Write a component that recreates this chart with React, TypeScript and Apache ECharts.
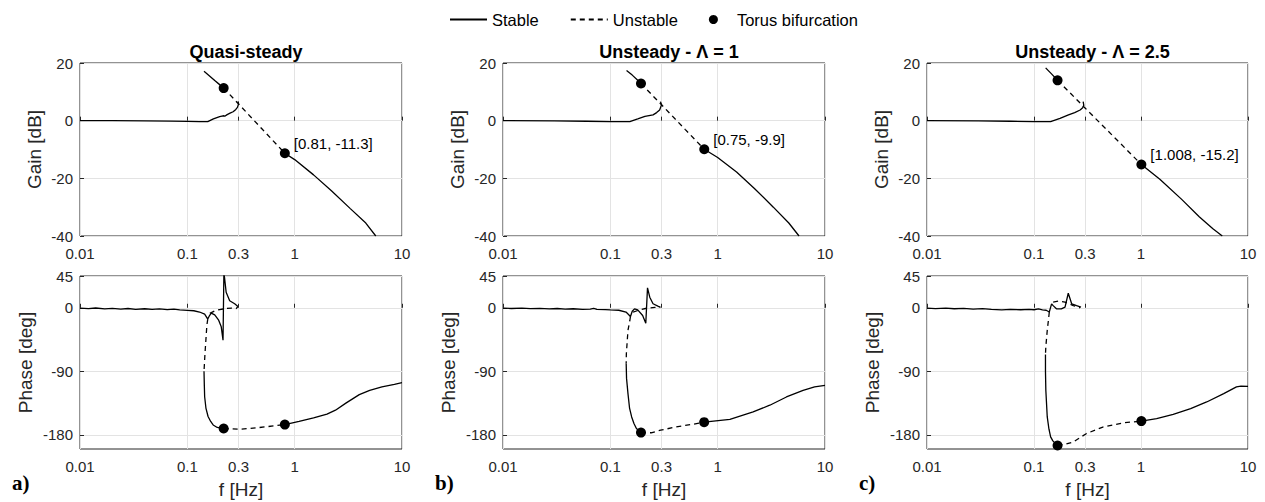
import React, { useEffect, useRef } from 'react';
import * as echarts from 'echarts';

type Pt = [number, number];

// ---------- texts ----------
const panelTitles = ['Quasi-steady', 'Unsteady - Λ = 1', 'Unsteady - Λ = 2.5'];
const panelLetters = ['a)', 'b)', 'c)'];
const legendNames = ['Stable', 'Unstable', 'Torus bifurcation'];
const gainName = 'Gain [dB]';
const phaseName = 'Phase [deg]';
const freqName = 'f [Hz]';
const torusNotes = ['[0.81, -11.3]', '[0.75, -9.9]', '[1.008, -15.2]'];

// ---------- ticks ----------
const freqTicks = [0.01, 0.1, 0.3, 1, 10];
const gainTicks = [-40, -20, 0, 20];
const phaseTicks = [-180, -90, 0, 45];
const gainRange = [-40, 20];
const phaseRange = [-200, 45];
const freqRange = [0.01, 10];

// ---------- panel a (quasi-steady) ----------
const aGainStableLow: Pt[] = [[0.01, 0], [0.02, 0], [0.04, -0.05], [0.07, -0.15], [0.1, -0.25], [0.13, -0.35], [0.155, -0.35], [0.175, 0.6], [0.2, 1.4], [0.215, 1.7], [0.225, 1.6], [0.235, 2.1], [0.25, 2.6], [0.267, 3.1], [0.283, 3.9], [0.293, 4.6], [0.3, 5.8], [0.297, 6.7]];
const aGainStableHigh: Pt[] = [[0.143, 17.1], [0.16, 15.6], [0.18, 13.9], [0.2, 12.5], [0.218, 11.3]];
const aGainUnstable: Pt[] = [[0.218, 11.3], [0.3, 5.8], [0.5, -3.0], [0.81, -11.3]];
const aGainStableTail: Pt[] = [[0.81, -11.3], [1.0, -13.5], [1.5, -18.8], [2.2, -24.3], [3.3, -30.5], [4.6, -35.5], [5.7, -40]];
const aPhaseStableLow: Pt[] = [[0.01, -0.5], [0.012, -1.2], [0.014, -0.3], [0.017, -1.5], [0.02, -0.8], [0.024, -1.9], [0.028, -1.0], [0.033, -2.2], [0.04, -1.4], [0.047, -2.3], [0.055, -1.6], [0.065, -2.6], [0.075, -2.0], [0.085, -3.0], [0.1, -3.6], [0.115, -4.2], [0.13, -6], [0.145, -9], [0.155, -16], [0.161, -11], [0.167, -7.6], [0.18, -10], [0.195, -17], [0.207, -27], [0.215, -46], [0.218, -46], [0.219, 48], [0.222, 43], [0.23, 22], [0.248, 10], [0.276, 5.6], [0.296, 1.8]];
const aPhaseUnstableTop: Pt[] = [[0.162, -8], [0.18, -4.5], [0.2, -2.5], [0.23, -1], [0.26, -0.5], [0.285, -1.2], [0.296, 1.8]];
const aPhaseUnstableDrop: Pt[] = [[0.155, -16], [0.152, -25], [0.149, -45], [0.146, -65], [0.143, -90]];
const aPhaseStableDrop: Pt[] = [[0.143, -90], [0.144, -110], [0.145, -126], [0.149, -142], [0.156, -154], [0.165, -161], [0.174, -166], [0.19, -169.5], [0.218, -171]];
const aPhaseUnstableLow: Pt[] = [[0.218, -171], [0.3, -172], [0.38, -171], [0.54, -168.6], [0.81, -165.4]];
const aPhaseStableTail: Pt[] = [[0.81, -165.4], [1.1, -161], [1.5, -156], [2.0, -150.5], [2.4, -145], [3.0, -135], [4.0, -123], [5.0, -117], [6.5, -112], [8.5, -108.5], [10, -106]];
const aGainTorus: Pt[] = [[0.218, 11.3], [0.81, -11.3]];
const aPhaseTorus: Pt[] = [[0.218, -171], [0.81, -165.4]];

// ---------- panel b (unsteady, Λ = 1) ----------
const bGainStableLow: Pt[] = [[0.01, 0], [0.03, -0.05], [0.06, -0.2], [0.1, -0.3], [0.13, -0.35], [0.152, -0.35], [0.18, 0.6], [0.21, 1.5], [0.25, 2.0], [0.27, 2.8], [0.288, 3.7], [0.3, 5.5], [0.293, 6.6]];
const bGainStableHigh: Pt[] = [[0.1416, 17.4], [0.16, 15.8], [0.18, 14.0], [0.193, 12.9]];
const bGainUnstable: Pt[] = [[0.193, 12.9], [0.3, 5.5], [0.5, -3.1], [0.75, -9.9]];
const bGainStableTail: Pt[] = [[0.75, -9.9], [1.0, -12.8], [1.5, -17.8], [2.2, -23.5], [3.3, -30], [4.6, -35.5], [5.73, -40]];
const bPhaseStableLow: Pt[] = [[0.01, -0.5], [0.012, -1.0], [0.015, -0.4], [0.018, -1.3], [0.022, -0.8], [0.027, -1.6], [0.032, -1.0], [0.038, -2.0], [0.045, -1.4], [0.055, -2.4], [0.065, -2.0], [0.07, -0.8], [0.075, -2.2], [0.09, -2.6], [0.1, -3.0], [0.12, -3.5], [0.14, -6], [0.154, -12.3], [0.16, -5], [0.168, -1.5], [0.18, -3], [0.2, -11], [0.214, -21.8], [0.222, 28.2], [0.233, 15], [0.25, 5.7], [0.28, 1.9], [0.29, 1]];
const bPhaseUnstableTop: Pt[] = [[0.163, -6], [0.19, -2.8], [0.22, -0.5], [0.26, 0.5], [0.294, 1]];
const bPhaseUnstableDrop: Pt[] = [[0.154, -12.3], [0.152, -18], [0.146, -32], [0.141, -65], [0.1405, -79]];
const bPhaseStableDrop: Pt[] = [[0.1405, -79], [0.1416, -100], [0.146, -121.6], [0.151, -142], [0.158, -154.6], [0.166, -164], [0.175, -171], [0.193, -176.7]];
const bPhaseUnstableLow: Pt[] = [[0.193, -176.7], [0.24, -177], [0.294, -173.4], [0.41, -168.7], [0.585, -165], [0.748, -162]];
const bPhaseStableTail: Pt[] = [[0.748, -162], [1.3, -158], [2.14, -147.5], [3.06, -138], [4.37, -126.3], [6.25, -117], [8.0, -112], [10, -109.8]];
const bGainTorus: Pt[] = [[0.193, 12.9], [0.75, -9.9]];
const bPhaseTorus: Pt[] = [[0.193, -176.7], [0.748, -162]];

// ---------- panel c (unsteady, Λ = 2.5) ----------
const cGainStableLow: Pt[] = [[0.01, 0], [0.03, -0.05], [0.06, -0.2], [0.1, -0.3], [0.143, -0.35], [0.175, 0.8], [0.21, 2.0], [0.24, 2.8], [0.27, 3.7], [0.285, 4.5], [0.292, 5.3], [0.288, 6.6]];
const cGainStableHigh: Pt[] = [[0.1285, 18.3], [0.145, 16.3], [0.166, 14]];
const cGainUnstable: Pt[] = [[0.166, 14], [0.3, 4.4], [0.6, -6.8], [1.008, -15.2]];
const cGainStableTail: Pt[] = [[1.008, -15.2], [1.5, -20.3], [2.4, -27.3], [3.5, -33.3], [4.7, -37.5], [5.75, -40]];
const cPhaseStableLow: Pt[] = [[0.01, -0.5], [0.012, -1.2], [0.015, -0.5], [0.018, -1.4], [0.022, -0.9], [0.027, -1.8], [0.033, -1.2], [0.04, -2.2], [0.05, -3], [0.06, -2.2], [0.075, -2.8], [0.09, -2.2], [0.1, -2.8], [0.11, -1.5], [0.12, -3], [0.13, -3.5], [0.139, -6], [0.146, 5.6], [0.151, 3], [0.162, -1.5], [0.18, -1.5], [0.195, 1], [0.209, 20.6], [0.225, 5.6], [0.25, 3], [0.275, 1]];
const cPhaseUnstableTop: Pt[] = [[0.151, 8], [0.168, 9.3], [0.195, 8], [0.233, 3], [0.27, 0]];
const cPhaseUnstableDrop: Pt[] = [[0.139, -6], [0.137, -15], [0.133, -32], [0.129, -55], [0.128, -66]];
const cPhaseStableDrop: Pt[] = [[0.128, -66], [0.128, -90], [0.129, -116.9], [0.133, -154.6], [0.138, -172], [0.143, -182.8], [0.15, -188.5], [0.158, -192], [0.166, -195]];
const cPhaseUnstableLow: Pt[] = [[0.166, -195], [0.2, -193], [0.233, -190], [0.31, -178], [0.44, -169], [0.68, -163], [1.008, -160.5]];
const cPhaseStableTail: Pt[] = [[1.008, -160.5], [1.4, -157], [2.0, -150.8], [2.91, -142.8], [4.11, -133.4], [5.93, -121.6], [7.8, -112], [8.6, -111], [10, -111.2]];
const cGainTorus: Pt[] = [[0.166, 14], [1.008, -15.2]];
const cPhaseTorus: Pt[] = [[0.166, -195], [1.008, -160.5]];

const panels = [
  {
    gainStable: [aGainStableLow, aGainStableHigh, aGainStableTail], gainUnstable: [aGainUnstable],
    phaseStable: [aPhaseStableLow, aPhaseStableDrop, aPhaseStableTail], phaseUnstable: [aPhaseUnstableTop, aPhaseUnstableDrop, aPhaseUnstableLow],
    gainTorus: aGainTorus, phaseTorus: aPhaseTorus,
  },
  {
    gainStable: [bGainStableLow, bGainStableHigh, bGainStableTail], gainUnstable: [bGainUnstable],
    phaseStable: [bPhaseStableLow, bPhaseStableDrop, bPhaseStableTail], phaseUnstable: [bPhaseUnstableTop, bPhaseUnstableDrop, bPhaseUnstableLow],
    gainTorus: bGainTorus, phaseTorus: bPhaseTorus,
  },
  {
    gainStable: [cGainStableLow, cGainStableHigh, cGainStableTail], gainUnstable: [cGainUnstable],
    phaseStable: [cPhaseStableLow, cPhaseStableDrop, cPhaseStableTail], phaseUnstable: [cPhaseUnstableTop, cPhaseUnstableDrop, cPhaseUnstableLow],
    gainTorus: cGainTorus, phaseTorus: cPhaseTorus,
  },
];

// ---------- layout / style ----------
const FONT = "'Liberation Sans', Arial, Helvetica, sans-serif";
const SERIF = "'Liberation Serif', 'Times New Roman', serif";
const gridLefts = [80, 503, 927];
const gridWidths = [322, 322, 321];
const rowTops = [63, 276];
const rowHeight = 173;
const axisColor = '#262626';
const splitColor = '#e3e3e3';
const LW = 1.3;

function fmtFreq(v: number) {
  return String(Number(Number(v).toPrecision(3)));
}

function buildOption() {
  const grid: any[] = [];
  const xAxis: any[] = [];
  const yAxis: any[] = [];
  const series: any[] = [];
  const title: any[] = [];
  const graphic: any[] = [];

  panels.forEach((p, pi) => {
    title.push({
      text: panelTitles[pi],
      left: gridLefts[pi] + gridWidths[pi] / 2,
      top: 38,
      textAlign: 'center',
      textStyle: { fontFamily: FONT, fontSize: 18, fontWeight: 'bold', color: '#000' },
    });
    graphic.push({
      type: 'text',
      left: gridLefts[pi] - 68,
      top: 472,
      style: { text: panelLetters[pi], font: `bold 21px ${SERIF}`, fill: '#000' },
    });
    [0, 1].forEach((row) => {
      const gi = pi * 2 + row;
      grid.push({
        left: gridLefts[pi], top: rowTops[row], width: gridWidths[pi], height: rowHeight,
        show: true, borderColor: axisColor, borderWidth: 1, backgroundColor: 'transparent',
      });
      xAxis.push({
        type: 'log', logBase: 10, gridIndex: gi, min: freqRange[0], max: freqRange[1],
        name: row === 1 ? freqName : '', nameLocation: 'middle', nameGap: 31,
        nameTextStyle: { fontFamily: FONT, fontSize: 19, color: axisColor },
        axisLine: { show: false },
        axisTick: { show: true, inside: true, length: 4, customValues: freqTicks, lineStyle: { color: axisColor } },
        minorTick: { show: false },
        splitLine: { show: true, lineStyle: { color: splitColor, width: 1 } },
        axisLabel: {
          customValues: freqTicks, formatter: (v: number) => fmtFreq(v),
          fontFamily: FONT, fontSize: 15, color: axisColor, margin: 10,
        },
      });
      const ticks = row === 0 ? gainTicks : phaseTicks;
      const range = row === 0 ? gainRange : phaseRange;
      yAxis.push({
        type: 'value', gridIndex: gi, min: range[0], max: range[1],
        name: row === 0 ? gainName : phaseName, nameLocation: 'middle', nameRotate: 90,
        nameGap: row === 0 ? 36 : 45,
        nameTextStyle: { fontFamily: FONT, fontSize: 19, color: axisColor },
        axisLine: { show: false },
        axisTick: { show: true, inside: true, length: 4, customValues: ticks, lineStyle: { color: axisColor } },
        splitLine: { show: true, lineStyle: { color: splitColor, width: 1 } },
        axisLabel: { customValues: ticks, fontFamily: FONT, fontSize: 15, color: axisColor, margin: 7 },
      });
      const stable = row === 0 ? p.gainStable : p.phaseStable;
      const unstable = row === 0 ? p.gainUnstable : p.phaseUnstable;
      stable.forEach((d) => series.push({
        type: 'line', name: legendNames[0], xAxisIndex: gi, yAxisIndex: gi, data: d,
        symbol: 'none', clip: true, silent: true, color: '#000',
        lineStyle: { color: '#000', width: LW, type: 'solid' },
      }));
      unstable.forEach((d) => series.push({
        type: 'line', name: legendNames[1], xAxisIndex: gi, yAxisIndex: gi, data: d,
        symbol: 'none', clip: true, silent: true, color: '#000',
        lineStyle: { color: '#000', width: LW, type: [5, 4] },
      }));
      const torus = row === 0 ? p.gainTorus : p.phaseTorus;
      series.push({
        type: 'scatter', name: legendNames[2], xAxisIndex: gi, yAxisIndex: gi, z: 5,
        symbol: 'circle', symbolSize: 10, itemStyle: { color: '#000', opacity: 1 }, silent: true,
        data: torus.map((pt, k) => (row === 0 && k === 1 ? {
          value: pt,
          label: {
            show: true, formatter: torusNotes[pi], position: 'right', distance: 4, offset: [0, -10],
            fontFamily: FONT, fontSize: 15, color: '#000',
          },
        } : { value: pt })),
      });
    });
  });

  return {
    animation: false,
    backgroundColor: '#fff',
    title,
    legend: {
      data: [
        { name: legendNames[0], itemStyle: { opacity: 0 } },
        { name: legendNames[1], itemStyle: { opacity: 0 } },
        { name: legendNames[2], icon: 'circle' },
      ],
      left: 444, top: 6, itemWidth: 37, itemHeight: 9, itemGap: 31,
      textStyle: { fontFamily: FONT, fontSize: 16.5, color: '#000' },
      selectedMode: false,
    },
    grid, xAxis, yAxis, series, graphic,
  };
}

export default function App() {
  const ref = useRef<HTMLDivElement>(null);
  useEffect(() => {
    if (!ref.current) return;
    const chart = echarts.init(ref.current, undefined, { renderer: 'svg' });
    chart.setOption(buildOption() as any);
    return () => chart.dispose();
  }, []);
  return (
    <div
      ref={ref}
      style={{ position: 'fixed', left: 0, top: 0, width: 1265, height: 502, background: '#fff' }}
    />
  );
}
